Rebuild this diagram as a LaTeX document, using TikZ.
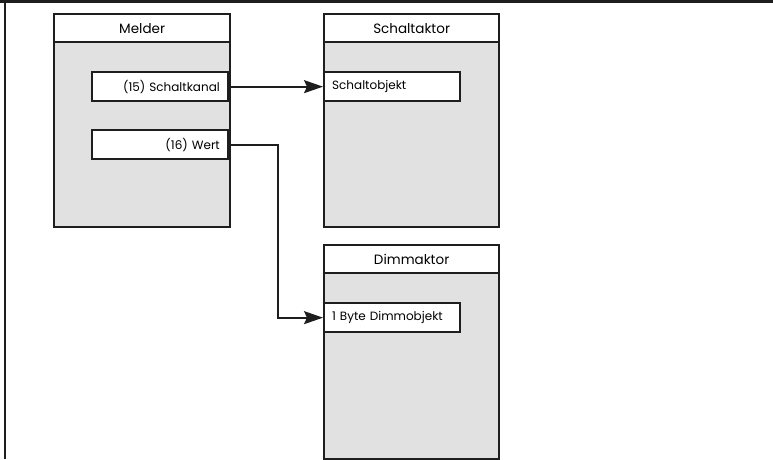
\documentclass[tikz,border=0pt]{standalone}
\usepackage{fontspec}
\setmainfont{Poppins}
\usetikzlibrary{arrows.meta}
\definecolor{bodyfill}{HTML}{E1E1E1}
\definecolor{ink}{HTML}{1E1E1E}
\begin{document}
\begin{tikzpicture}[x=1pt,y=-1pt,
  box/.style={rectangle, draw=ink, line width=2.3pt, inner sep=0pt, anchor=north west, minimum width=176pt},
  bodybox/.style={box, fill=bodyfill, minimum height=185pt},
  titlebox/.style={box, fill=white, minimum height=28pt, font=\fontsize{13.5}{15}\selectfont},
  portl/.style={box, fill=white, minimum width=136pt, minimum height=29pt, inner xsep=8pt, text width=120pt, align=left, font=\fontsize{12}{14}\selectfont},
  portr/.style={portl, align=right},
  conn/.style={draw=ink, line width=1.8pt},
  arr/.style={conn, -{Stealth[length=19pt,width=13pt,inset=3pt]}}
]
\useasboundingbox (0,0) rectangle (773,459);
\draw[line width=2.8pt, draw=ink] (0,1.4) -- (773,1.4);
\draw[line width=2.2pt, draw=ink] (5,0) -- (5,459);

% Melder
\node[bodybox] (melderB) at (53,41) {};
\node[titlebox] (melderT) at (53,13) {Melder};
\node[portr, anchor=north east] (kanal) at (229,71) {(15) Schaltkanal};
\node[portr, anchor=north east] (wert) at (229,129) {(16) Wert};

% Schaltaktor
\node[bodybox, minimum width=175pt] (schaltB) at (323,41) {};
\node[titlebox, minimum width=175pt] (schaltT) at (323,13) {Schaltaktor};
\node[portl, minimum width=135pt] (schaltobj) at (323,71) {Schaltobjekt};

% Dimmaktor
\node[bodybox, minimum width=175pt, minimum height=186pt] (dimmB) at (323,272) {};
\node[titlebox, minimum width=175pt] (dimmT) at (323,244) {Dimmaktor};
\node[portl, minimum width=135pt] (dimmobj) at (323,302) {1 Byte Dimmobjekt};

\coordinate (bend) at (278,230);
\draw[arr] (kanal.east) -- (schaltobj.west);
\draw[arr] (wert.east) -| (bend) |- (dimmobj.west);
\end{tikzpicture}
\end{document}
